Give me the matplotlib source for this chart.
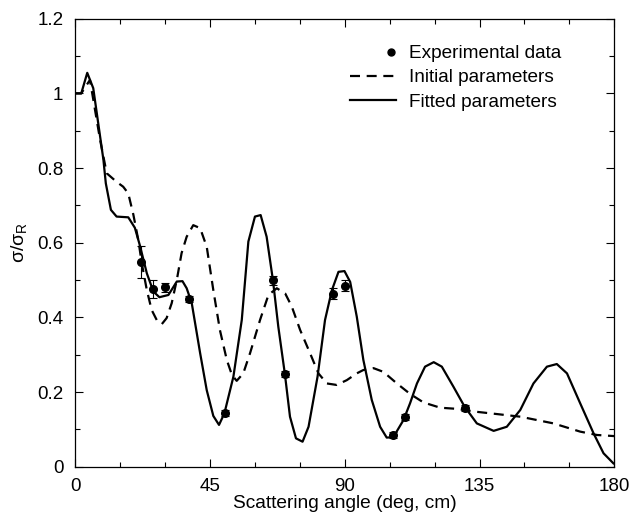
import matplotlib
matplotlib.use("Agg")
import matplotlib.pyplot as plt
from matplotlib.ticker import MultipleLocator
from matplotlib.lines import Line2D
from matplotlib.legend_handler import HandlerLine2DCompound

plt.rcParams['font.family'] = ['Liberation Sans', 'DejaVu Sans']
plt.rcParams['mathtext.fontset'] = 'custom'
plt.rcParams['mathtext.rm'] = 'Liberation Sans'
plt.rcParams['mathtext.it'] = 'Liberation Sans'

# Experimental data
exp_angle = [22, 26, 30, 38, 50, 66, 70, 86, 90, 106, 110, 130]
exp_value = [0.548, 0.475, 0.481, 0.448, 0.143, 0.500, 0.248, 0.463, 0.485, 0.085, 0.134, 0.158]
exp_error = [0.043, 0.024, 0.012, 0.008, 0.008, 0.012, 0.008, 0.015, 0.015, 0.008, 0.008, 0.008]

# Initial parameters (dashed)
init_angle = [0, 2, 4.9, 8.3, 10.5, 13.8, 16.0, 17.7, 19.4, 21.1, 22.2, 23.9, 25.5, 27.2,
              28.9, 30.5, 32.2, 33.9, 35.5, 37.2, 39.4, 41.7, 43.9, 46.1, 48.3, 50.6,
              52.3, 53.9, 56.1, 58.4, 61.7, 64.5, 67.3, 70.1, 72.3, 75.1, 78.4, 81.2,
              84.0, 87.3, 90.7, 94.0, 96.2, 99.6, 102.9, 107.4, 111.8, 116.3, 121.9,
              127.4, 134.1, 138.6, 148.6, 159.7, 168.6, 174.2, 180]
init_value = [1.0, 1.0, 1.036, 0.875, 0.786, 0.763, 0.750, 0.732, 0.675, 0.605, 0.545,
              0.473, 0.420, 0.393, 0.382, 0.398, 0.438, 0.500, 0.572, 0.616, 0.647,
              0.639, 0.589, 0.473, 0.366, 0.286, 0.246, 0.230, 0.250, 0.305, 0.393,
              0.460, 0.478, 0.464, 0.429, 0.366, 0.304, 0.250, 0.223, 0.219, 0.232,
              0.250, 0.259, 0.264, 0.254, 0.223, 0.195, 0.172, 0.158, 0.155, 0.147,
              0.143, 0.134, 0.116, 0.094, 0.085, 0.082]

# Fitted parameters (solid)
fit_angle = [0, 2, 4.0, 6.0, 9.4, 10.2, 11.9, 13.8, 17.7, 19.9, 21.6, 23.9, 26.1, 28.1,
             31.1, 33.9, 35.8, 37.2, 38.9, 41.7, 43.9, 46.1, 48.0, 49.8, 52.8, 55.6,
             57.8, 60.0, 61.9, 63.9, 66.0, 67.8, 70.0, 71.7, 73.7, 75.9, 77.9, 80.9,
             83.4, 85.7, 87.9, 89.9, 91.8, 94.0, 96.2, 99.0, 101.8, 104.0, 106.2,
             109.6, 111.8, 114.1, 116.8, 119.7, 122.4, 126.3, 130.0, 134.1, 139.7,
             144.1, 148.6, 153.0, 157.5, 160.8, 164.2, 168.6, 173.1, 176.4, 179.7]
fit_value = [1.0, 1.0, 1.055, 1.014, 0.822, 0.759, 0.688, 0.670, 0.668, 0.640, 0.592,
             0.518, 0.469, 0.454, 0.460, 0.496, 0.497, 0.478, 0.438, 0.304, 0.205,
             0.136, 0.112, 0.143, 0.241, 0.393, 0.603, 0.670, 0.674, 0.616, 0.500,
             0.375, 0.248, 0.134, 0.076, 0.067, 0.107, 0.241, 0.393, 0.473, 0.522,
             0.524, 0.495, 0.402, 0.286, 0.179, 0.107, 0.078, 0.079, 0.125, 0.170,
             0.223, 0.268, 0.280, 0.268, 0.214, 0.161, 0.116, 0.096, 0.107, 0.152,
             0.223, 0.268, 0.275, 0.250, 0.170, 0.089, 0.036, 0.009]

x_ticks = [0, 45, 90, 135, 180]
y_ticks = [0, 0.2, 0.4, 0.6, 0.8, 1.0, 1.2]
y_ticklabels = ['0', '0.2', '0.4', '0.6', '0.8', '1', '1.2']


class RightMarkerHandler(HandlerLine2DCompound):
    def get_xdata(self, legend, xdescent, ydescent, width, height, fontsize):
        xdata, _ = super().get_xdata(legend, xdescent, ydescent, width, height, fontsize)
        return xdata, [width - xdescent - 3]


fig = plt.figure(figsize=(6.32, 5.21), dpi=100)
ax = fig.add_axes([0.1191, 0.1042, 0.8529, 0.8599])

ax.plot(init_angle, init_value, color='black', lw=1.6, linestyle=(0, (4.5, 3)),
        label='Initial parameters')
ax.plot(fit_angle, fit_value, color='black', lw=1.6, label='Fitted parameters')
ax.errorbar(exp_angle, exp_value, yerr=exp_error, fmt='o', color='black', ms=5.5,
            elinewidth=0.8, capsize=3, capthick=0.8, label='Experimental data')

ax.set_xlim(0, 180)
ax.set_ylim(0, 1.2)
ax.set_xticks(x_ticks)
ax.set_yticks(y_ticks)
ax.set_yticklabels(y_ticklabels)
ax.xaxis.set_minor_locator(MultipleLocator(15))
ax.yaxis.set_minor_locator(MultipleLocator(0.1))
ax.tick_params(which='both', direction='in', top=True, right=True, labelsize=13.5,
               width=0.8)
ax.tick_params(which='major', length=6)
ax.tick_params(which='minor', length=3.5)
ax.tick_params(axis='y', which='major', pad=8.5)
ax.tick_params(axis='x', which='major', pad=8)
for s in ax.spines.values():
    s.set_linewidth(0.9)

ax.set_xlabel('Scattering angle (deg, cm)', fontsize=13.8, labelpad=0)
ax.set_ylabel(r'σ/σ$_\mathrm{R}$', fontsize=14, labelpad=6)

handles, labels = ax.get_legend_handles_labels()
h_exp = Line2D([], [], marker='o', color='black', linestyle='none', ms=5)
leg = fig.legend([h_exp, handles[0], handles[1]],
                 [labels[2], labels[0], labels[1]],
                 loc='upper left', bbox_to_anchor=(350 / 632, 1 - 45 / 521),
                 frameon=False, fontsize=13.7, handlelength=2.4, handletextpad=0.7,
                 labelspacing=0.36, borderpad=0, borderaxespad=0,
                 handler_map={h_exp: RightMarkerHandler(numpoints=1)})
fig.savefig('out.png', dpi=100)
